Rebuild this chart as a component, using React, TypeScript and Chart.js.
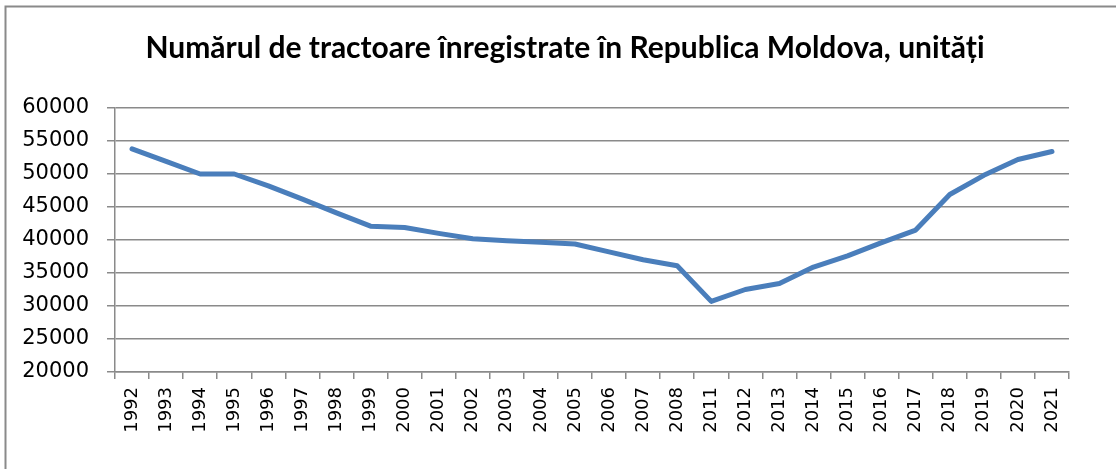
import React, { useEffect, useRef } from "react";
import { Chart, registerables } from "chart.js";

Chart.register(...registerables);

const years: string[] = [
  "1992", "1993", "1994", "1995", "1996", "1997", "1998", "1999", "2000", "2001",
  "2002", "2003", "2004", "2005", "2006", "2007", "2008", "2011", "2012", "2013",
  "2014", "2015", "2016", "2017", "2018", "2019", "2020", "2021",
];

const tractors: number[] = [
  53800, 51900, 50000, 50000, 48200, 46200, 44100, 42100, 41900, 41000,
  40200, 39900, 39650, 39400, 38200, 37000, 36100, 30700, 32500, 33400,
  35900, 37600, 39600, 41500, 46900, 49800, 52200, 53400,
];

const titleText = "Numărul de tractoare înregistrate în Republica Moldova, unități";
const yMin = 20000;
const yMax = 60000;
const yStep = 5000;

const framePlugin = {
  id: "frame",
  beforeDraw(chart: any) {
    const ctx = chart.ctx;
    ctx.save();
    ctx.fillStyle = "#ffffff";
    ctx.fillRect(0, 0, chart.width, chart.height);
    ctx.strokeStyle = "#8a8a8a";
    ctx.lineWidth = 2;
    ctx.strokeRect(5.5, 6.5, 2000, 2000);
    ctx.restore();
  },
};

export default function App() {
  const ref = useRef<HTMLCanvasElement | null>(null);

  useEffect(() => {
    if (!ref.current) return;
    const chart = new Chart(ref.current, {
      type: "line",
      data: {
        labels: years,
        datasets: [
          {
            label: "Tractoare",
            data: tractors,
            borderColor: "#4a7ebb",
            backgroundColor: "#4a7ebb",
            borderWidth: 5,
            pointRadius: 0,
            tension: 0,
            borderJoinStyle: "round",
            borderCapStyle: "round",
          },
        ],
      },
      options: {
        responsive: false,
        animation: false,
        layout: { padding: { left: 14, right: 0, top: 0, bottom: 0 } },
        plugins: {
          legend: { display: false },
          tooltip: { enabled: false },
          title: {
            display: true,
            text: titleText,
            color: "#000000",
            font: { family: "Lato", weight: "bold", size: 30 },
            padding: { top: 30.5, bottom: 41.5 },
          },
        },
        scales: {
          x: {
            type: "category",
            offset: true,
            grid: {
              offset: true,
              drawOnChartArea: false,
              drawTicks: true,
              tickLength: 7,
              color: "#8a8a8a",
              lineWidth: 1.5,
            },
            border: { display: true, color: "#8a8a8a", width: 1.5 },
            ticks: {
              autoSkip: false,
              minRotation: 90,
              maxRotation: 90,
              padding: 8,
              color: "#000000",
              font: { family: "DejaVu Sans", size: 18 },
            },
            afterFit(scale: any) {
              scale.height = 97;
            },
          },
          y: {
            min: yMin,
            max: yMax,
            grid: {
              drawTicks: true,
              tickLength: 8,
              color: "#8a8a8a",
              lineWidth: 1.5,
            },
            border: { display: true, color: "#8a8a8a", width: 1.5 },
            ticks: {
              stepSize: yStep,
              padding: 18,
              color: "#000000",
              font: { family: "DejaVu Sans", size: 21 },
              callback: (v: any) => String(v),
            },
            afterFit(scale: any) {
              scale.width = 101;
            },
          },
          y2: {
            position: "right",
            display: true,
            grid: { display: false },
            border: { display: false },
            ticks: { display: false },
            afterFit(scale: any) {
              scale.width = 47;
            },
          },
        },
      },
      plugins: [framePlugin],
    } as any);
    return () => chart.destroy();
  }, []);

  return (
    <div style={{ position: "fixed", left: 0, top: 0, width: 1116, height: 469 }}>
      <canvas ref={ref} width={1116} height={469} style={{ display: "block" }} />
    </div>
  );
}
